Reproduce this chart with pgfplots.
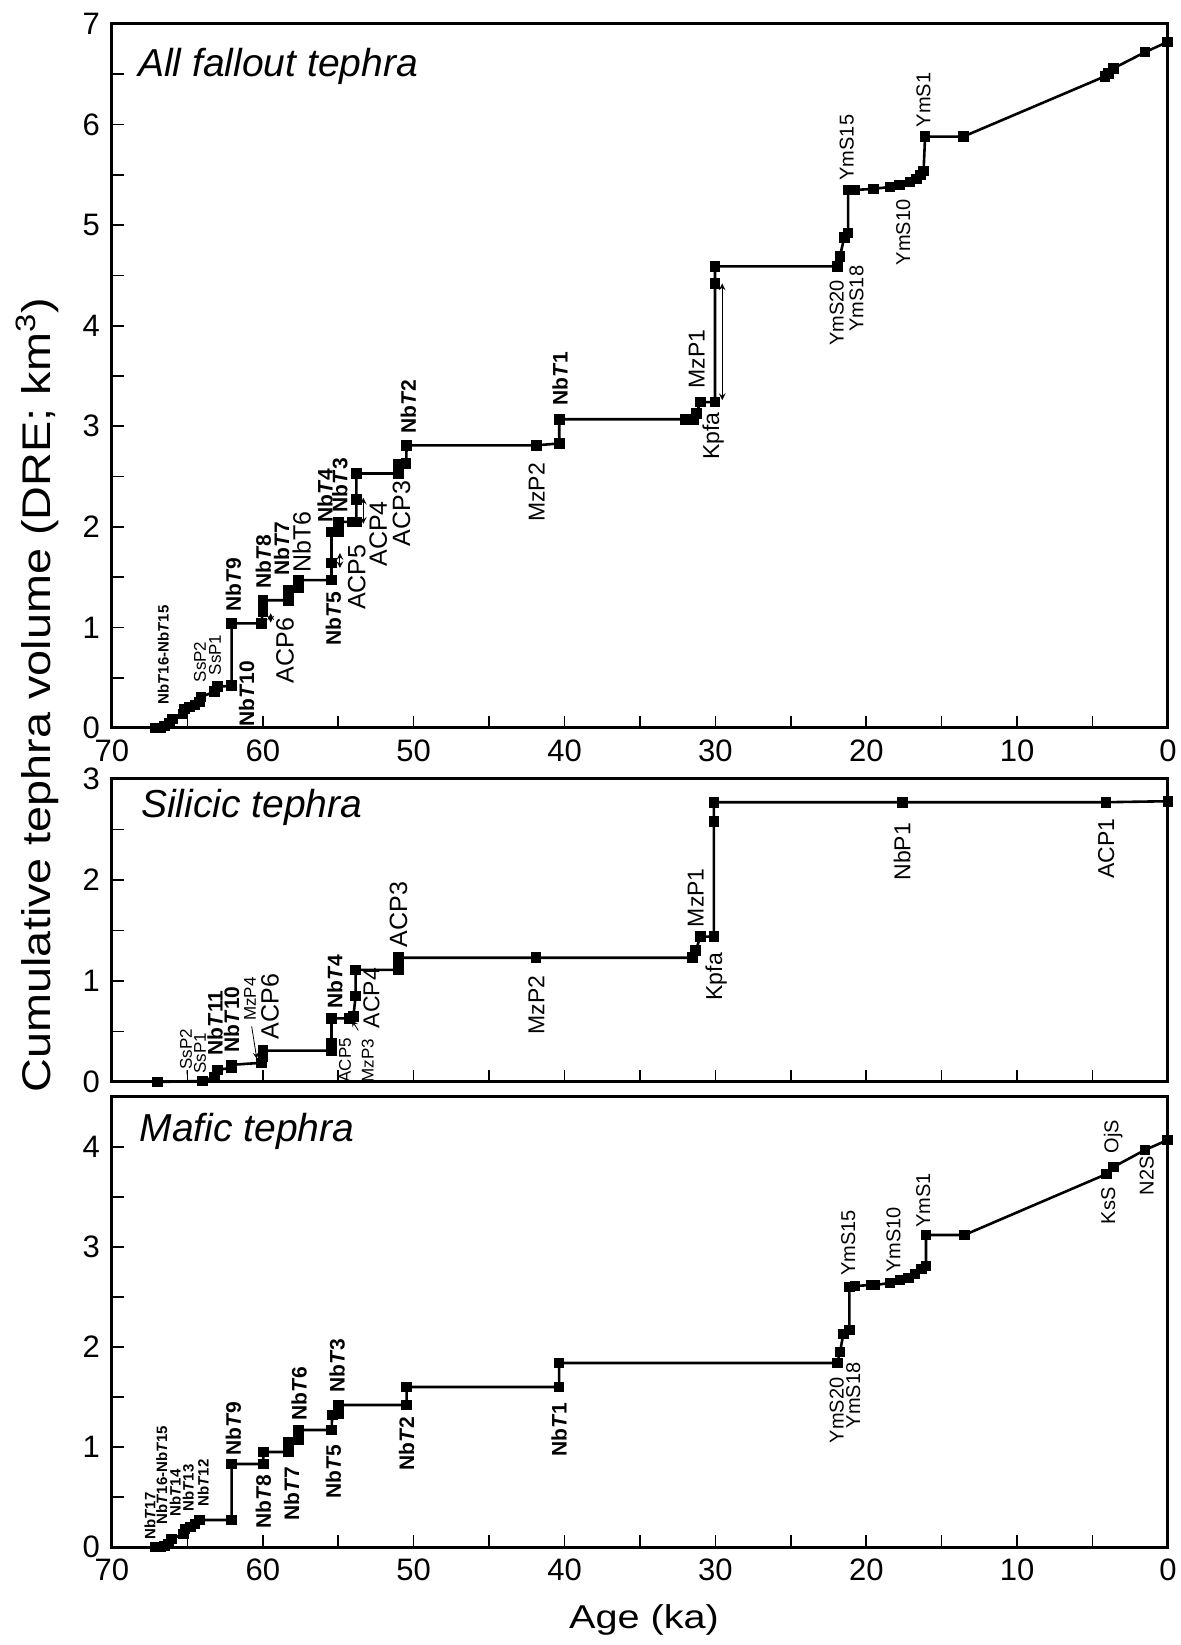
\documentclass[border=0pt]{standalone}
\usepackage{fontspec}
\setmainfont{Liberation Sans}
\usepackage{pgfplots}
\pgfplotsset{compat=1.18}
\newcommand{\nbt}[1]{\textbf{Nb\textit{T}#1}}
\begin{document}
\begin{tikzpicture}
\path[use as bounding box] (0pt,0pt) rectangle (590.5pt,822.5pt);
\pgfplotsset{
  panel/.style={
    scale only axis, width=528pt, clip=false,
    x dir=reverse, xmin=0, xmax=70,
    xtick={0,10,...,70}, minor x tick num=1,
    minor y tick num=1,
    tick align=inside, xtick pos=bottom, ytick pos=left,
    major tick length=6pt, minor tick length=6pt,
    every axis/.append style={line width=1.5pt},
    tick style={line width=0.8pt,black},
    ticklabel style={font=\fontsize{15.5}{18}\selectfont},
    /pgf/number format/assume math mode=true,
    yticklabel style={xshift=-2pt},
    xticklabel style={yshift=-2pt},
    anchor=south west,
  },
  dat/.style={black, line width=1.3pt, mark=square*, mark size=2pt, mark options={solid,fill=black}},
}
\tikzset{
  L/.style={rotate=90, inner sep=1.5pt, font=\fontsize{11.5}{12}\selectfont},
  LA/.style={rotate=90, inner sep=1.5pt, font=\fontsize{12.5}{13}\selectfont},
  LS/.style={rotate=90, inner sep=1.5pt, font=\fontsize{10}{11}\selectfont},
  LX/.style={rotate=90, inner sep=1.5pt, font=\fontsize{8.5}{9}\selectfont},
  LB/.style={rotate=90, inner sep=1.5pt, font=\fontsize{10.5}{11}\selectfont},
  LT/.style={rotate=90, inner sep=1pt, font=\fontsize{7.5}{8}\selectfont},
  TT/.style={anchor=base west, font=\fontsize{19.5}{22}\selectfont\itshape},
  arr/.style={<->, >=stealth, line width=0.5pt},
}
% ---------------- Top panel: All fallout tephra
\begin{axis}[panel, at={(56pt,458.5pt)}, height=352pt, ymin=0, ymax=7, ytick={0,1,...,7}]
\addplot[dat] coordinates {
(67.1,0.00) (66.8,0.00) (66.5,0.02) (66.2,0.05) (66.0,0.09) (65.3,0.14) (65.2,0.19)
(64.85,0.21) (64.5,0.23) (64.2,0.26) (64.1,0.31) (63.2,0.36) (63.0,0.41) (62.07,0.42)
(62.07,1.04) (60.1,1.04) (60.0,1.16) (60.0,1.27) (58.3,1.27) (58.3,1.37) (57.65,1.39)
(57.65,1.47) (55.45,1.47) (55.45,1.64) (55.45,1.95) (55.0,1.95) (55.0,2.05) (54.1,2.05)
(53.8,2.05) (53.8,2.27) (53.8,2.53) (51.0,2.53) (51.0,2.62) (50.5,2.63) (50.47,2.81)
(41.85,2.81) (40.35,2.83) (40.35,3.07) (32.0,3.07) (31.47,3.07) (31.25,3.13) (31.0,3.24)
(30.03,3.24) (30.03,4.42) (30.03,4.59) (21.9,4.59) (21.75,4.69) (21.45,4.88) (21.2,4.92)
(21.2,5.35) (20.75,5.35) (19.54,5.36) (18.43,5.38) (17.8,5.40) (17.1,5.43) (16.66,5.46)
(16.4,5.50) (16.2,5.54) (16.1,5.88) (13.57,5.88) (4.17,6.48) (3.95,6.51) (3.6,6.56)
(1.52,6.72) (0.05,6.82)
};
\node[TT] at (axis cs:68.8,6.48) {All fallout tephra};
\node[LT,anchor=west] at (axis cs:66.6,0.20) {\nbt{16-}\nbt{15}};
\node[LX,anchor=west] at (axis cs:64.17,0.41) {SsP2};
\node[LX,anchor=west] at (axis cs:63.17,0.48) {SsP1};
\node[LB,anchor=west] at (axis cs:61.96,1.11) {\nbt{9}};
\node[LB,anchor=east] at (axis cs:61.07,0.71) {\nbt{10}};
\node[LB,anchor=west] at (axis cs:59.97,1.34) {\nbt{8}};
\node[LA,anchor=east] at (axis cs:58.53,1.14) {ACP6};
\node[LB,anchor=west] at (axis cs:58.75,1.47) {\nbt{7}};
\node[LA,anchor=west] at (axis cs:57.43,1.50) {NbT6};
\node[LB,anchor=east] at (axis cs:55.33,1.40) {\nbt{5}};
\node[LA,anchor=east] at (axis cs:53.78,1.87) {ACP5};
\node[LB,anchor=west] at (axis cs:55.88,2.00) {\nbt{4}};
\node[LB,anchor=west] at (axis cs:54.89,2.10) {\nbt{3}};
\node[LA,anchor=east] at (axis cs:52.35,2.30) {ACP4};
\node[LA,anchor=east] at (axis cs:50.8,2.50) {ACP3};
\node[LB,anchor=west] at (axis cs:50.36,2.88) {\nbt{2}};
\node[L,anchor=east] at (axis cs:41.85,2.68) {MzP2};
\node[LB,anchor=west] at (axis cs:40.3,3.16) {\nbt{1}};
\node[L,anchor=west] at (axis cs:31.24,3.33) {MzP1};
\node[L,anchor=east] at (axis cs:30.14,3.18) {Kpfa};
\node[LS,anchor=east] at (axis cs:21.96,4.50) {YmS20};
\node[LS,anchor=east] at (axis cs:20.64,4.64) {YmS18};
\node[LS,anchor=west] at (axis cs:21.3,5.40) {YmS15};
\node[LS,anchor=east] at (axis cs:17.55,5.30) {YmS10};
\node[LS,anchor=west] at (axis cs:16.2,5.93) {YmS1};
\draw[arr] (axis cs:29.55,3.26) -- (axis cs:29.55,4.42);
\draw[arr] (axis cs:53.34,2.03) -- (axis cs:53.34,2.29);
\draw[arr] (axis cs:54.89,1.59) -- (axis cs:54.89,1.74);
\draw[arr] (axis cs:59.48,1.05) -- (axis cs:59.48,1.14);
\end{axis}
% ---------------- Middle panel: Silicic tephra
\begin{axis}[panel, at={(56pt,281.5pt)}, height=151.5pt, ymin=0, ymax=3, ytick={0,1,2,3}, xticklabels={}]
\addplot[dat] coordinates {
(67.0,0.00) (64.0,0.01) (63.2,0.05) (63.0,0.12) (62.07,0.14) (62.07,0.17) (60.1,0.19)
(60.0,0.25) (60.0,0.31) (55.45,0.31) (55.45,0.38) (55.45,0.63) (54.3,0.63) (54.0,0.65)
(53.85,0.85) (53.85,1.11) (51.0,1.11) (51.0,1.20) (51.0,1.23) (41.9,1.23) (31.5,1.23)
(31.3,1.30) (31.0,1.44) (30.1,1.44) (30.1,2.58) (30.1,2.77) (17.6,2.77) (4.1,2.77) (0.0,2.78)
};
\node[TT] at (axis cs:68.6,2.62) {Silicic tephra};
\node[LX,anchor=west] at (axis cs:65.1,0.02) {-SsP2};
\node[LX,anchor=west] at (axis cs:64.17,0.04) {SsP1};
\node[LB,anchor=west] at (axis cs:63.17,0.22) {\nbt{11}};
\node[LB,anchor=west] at (axis cs:62.07,0.25) {\nbt{10}};
\node[LX,anchor=west] at (axis cs:60.85,0.56) {MzP4};
\draw[->, >=stealth, line width=0.4pt] (axis cs:60.74,0.55) -- (axis cs:60.4,0.23);
\node[LA,anchor=west] at (axis cs:59.53,0.38) {ACP6};
\node[LB,anchor=west] at (axis cs:55.22,0.68) {\nbt{4}};
\node[LX,anchor=east] at (axis cs:54.55,0.48) {ACP5};
\node[LX,anchor=east] at (axis cs:53.05,0.47) {MzP3};
\draw[->, >=stealth, line width=0.4pt] (axis cs:53.67,0.51) -- (axis cs:54.1,0.61);
\node[L,anchor=west] at (axis cs:52.8,0.49) {ACP4};
\node[LA,anchor=west] at (axis cs:51.0,1.29) {ACP3};
\node[L,anchor=east] at (axis cs:41.87,1.10) {MzP2};
\node[L,anchor=west] at (axis cs:31.3,1.49) {MzP1};
\node[L,anchor=east] at (axis cs:29.95,1.32) {Kpfa};
\node[L,anchor=east] at (axis cs:17.62,2.61) {NbP1};
\node[L,anchor=east] at (axis cs:4.1,2.65) {ACP1};
\end{axis}
% ---------------- Bottom panel: Mafic tephra
\begin{axis}[panel, at={(56pt,49pt)}, height=225pt, ymin=0, ymax=4.5, ytick={0,1,2,3,4}]
\addplot[dat] coordinates {
(67.1,0.00) (66.8,0.00) (66.5,0.01) (66.27,0.03) (66.04,0.08) (65.27,0.13) (65.16,0.18)
(64.8,0.20) (64.5,0.23) (64.2,0.27) (62.07,0.27) (62.07,0.83) (59.97,0.83) (59.97,0.95)
(58.3,0.95) (58.3,1.05) (57.65,1.07) (57.65,1.17) (55.44,1.17) (55.4,1.32) (55.0,1.33)
(55.0,1.42) (50.47,1.42) (50.47,1.60) (40.36,1.60) (40.36,1.84) (21.92,1.84) (21.74,1.95)
(21.52,2.13) (21.12,2.17) (21.12,2.60) (20.75,2.61) (19.64,2.62) (19.42,2.62) (18.43,2.64)
(17.77,2.67) (17.2,2.69) (16.77,2.73) (16.33,2.78) (16.04,2.81) (16.04,3.12) (13.5,3.12)
(4.07,3.73) (3.62,3.80) (1.53,3.97) (0.02,4.07)
};
\node[TT] at (axis cs:68.7,4.05) {Mafic tephra};
\node[LT,anchor=west] at (axis cs:67.48,0.04) {\nbt{17}};
\node[LT,anchor=west] at (axis cs:66.7,0.19) {\nbt{16-}\nbt{15}};
\node[LT,anchor=west] at (axis cs:65.8,0.27) {\nbt{14}};
\node[LT,anchor=west] at (axis cs:64.94,0.32) {\nbt{13}};
\node[LT,anchor=west] at (axis cs:63.95,0.37) {\nbt{12}};
\node[LB,anchor=west] at (axis cs:61.96,0.87) {\nbt{9}};
\node[LB,anchor=east] at (axis cs:59.97,0.77) {\nbt{8}};
\node[LB,anchor=east] at (axis cs:58.09,0.85) {\nbt{7}};
\node[LB,anchor=west] at (axis cs:57.6,1.22) {\nbt{6}};
\node[LB,anchor=east] at (axis cs:55.33,1.07) {\nbt{5}};
\node[LB,anchor=west] at (axis cs:55.07,1.50) {\nbt{3}};
\node[LB,anchor=east] at (axis cs:50.47,1.35) {\nbt{2}};
\node[LB,anchor=east] at (axis cs:40.36,1.49) {\nbt{1}};
\node[LS,anchor=east] at (axis cs:21.96,1.74) {YmS20};
\node[LS,anchor=east] at (axis cs:20.86,1.89) {YmS18};
\node[LS,anchor=west] at (axis cs:21.2,2.67) {YmS15};
\node[LS,anchor=west] at (axis cs:18.2,2.70) {YmS10};
\node[LS,anchor=west] at (axis cs:16.22,3.15) {YmS1};
\node[LS,anchor=east] at (axis cs:3.96,3.64) {KsS};
\node[LS,anchor=west] at (axis cs:3.63,3.89) {OjS};
\node[LS,anchor=east] at (axis cs:1.41,3.95) {N2S};
\end{axis}
\node[rotate=90, font=\fontsize{20}{24}\selectfont] at (18.5pt,475pt) {\scalebox{1.17}[1]{Cumulative tephra volume (DRE; km\textsuperscript{3})}};
\node[font=\fontsize{16.5}{19}\selectfont] at (322pt,12.5pt) {\scalebox{1.2}[1]{Age (ka)}};
\end{tikzpicture}
\end{document}
